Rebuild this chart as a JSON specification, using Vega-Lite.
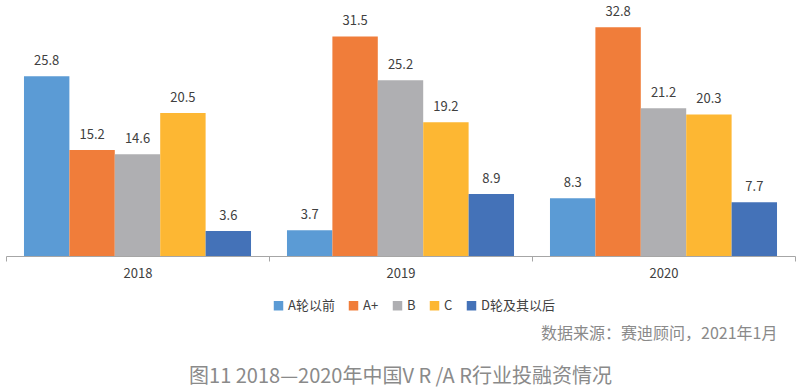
{
  "$schema": "https://vega.github.io/schema/vega-lite/v6.json",
  "width": 789,
  "height": 244,
  "autosize": {"type": "none"},
  "padding": {"left": 6, "top": 12, "right": 5, "bottom": 133},
  "background": "white",
  "config": {"view": {"stroke": null}, "font": "Noto Sans CJK SC"},
  "title": {
    "text": "图11 2018—2020年中国V R /A R行业投融资情况",
    "orient": "bottom",
    "anchor": "middle",
    "fontSize": 20,
    "fontWeight": "normal",
    "color": "#8a8a8a",
    "font": "Noto Sans CJK SC",
    "offset": 26
  },
  "data": {
    "values": [
      {"year": "2018", "series": "A轮以前", "value": 25.8},
      {"year": "2018", "series": "A+", "value": 15.2},
      {"year": "2018", "series": "B", "value": 14.6},
      {"year": "2018", "series": "C", "value": 20.5},
      {"year": "2018", "series": "D轮及其以后", "value": 3.6},
      {"year": "2019", "series": "A轮以前", "value": 3.7},
      {"year": "2019", "series": "A+", "value": 31.5},
      {"year": "2019", "series": "B", "value": 25.2},
      {"year": "2019", "series": "C", "value": 19.2},
      {"year": "2019", "series": "D轮及其以后", "value": 8.9},
      {"year": "2020", "series": "A轮以前", "value": 8.3},
      {"year": "2020", "series": "A+", "value": 32.8},
      {"year": "2020", "series": "B", "value": 21.2},
      {"year": "2020", "series": "C", "value": 20.3},
      {"year": "2020", "series": "D轮及其以后", "value": 7.7}
    ]
  },
  "encoding": {
    "x": {
      "field": "year",
      "type": "nominal",
      "scale": {"paddingInner": 0, "paddingOuter": 0},
      "axis": {
        "title": "数据来源：赛迪顾问，2021年1月",
        "titleAnchor": "end",
        "titleAlign": "right",
        "titleX": 771,
        "titlePadding": 45,
        "titleFontSize": 16,
        "titleFontWeight": "normal",
        "titleColor": "#8a8a8a",
        "labelAngle": 0,
        "labelFontSize": 13,
        "labelColor": "#404040",
        "labelPadding": 6,
        "tickBand": "extent",
        "tickSize": 5,
        "tickColor": "#a6a6a6",
        "domainColor": "#a6a6a6"
      }
    },
    "xOffset": {
      "field": "series",
      "type": "nominal",
      "sort": ["A轮以前", "A+", "B", "C", "D轮及其以后"],
      "scale": {"paddingInner": 0, "paddingOuter": 0.396}
    },
    "y": {
      "field": "value",
      "type": "quantitative",
      "scale": {"domain": [0, 35], "nice": false},
      "axis": null
    }
  },
  "layer": [
    {
      "mark": {"type": "bar"},
      "encoding": {
        "color": {
          "field": "series",
          "type": "nominal",
          "sort": ["A轮以前", "A+", "B", "C", "D轮及其以后"],
          "scale": {
            "domain": ["A轮以前", "A+", "B", "C", "D轮及其以后"],
            "range": ["#5B9BD5", "#F07D3A", "#AFAFB2", "#FDB733", "#4472B8"]
          },
          "legend": {
            "title": null,
            "orient": "none",
            "direction": "horizontal",
            "legendX": 266,
            "legendY": 287,
            "symbolType": "square",
            "symbolSize": 90,
            "symbolStrokeWidth": 0,
            "labelFontSize": 13,
            "labelColor": "#404040",
            "labelOffset": 3,
            "columnPadding": 12
          }
        }
      }
    },
    {
      "mark": {"type": "text", "baseline": "bottom", "dy": -8, "fontSize": 13, "color": "#404040"},
      "encoding": {
        "text": {"field": "value", "type": "quantitative", "format": ".1f"}
      }
    }
  ]
}
